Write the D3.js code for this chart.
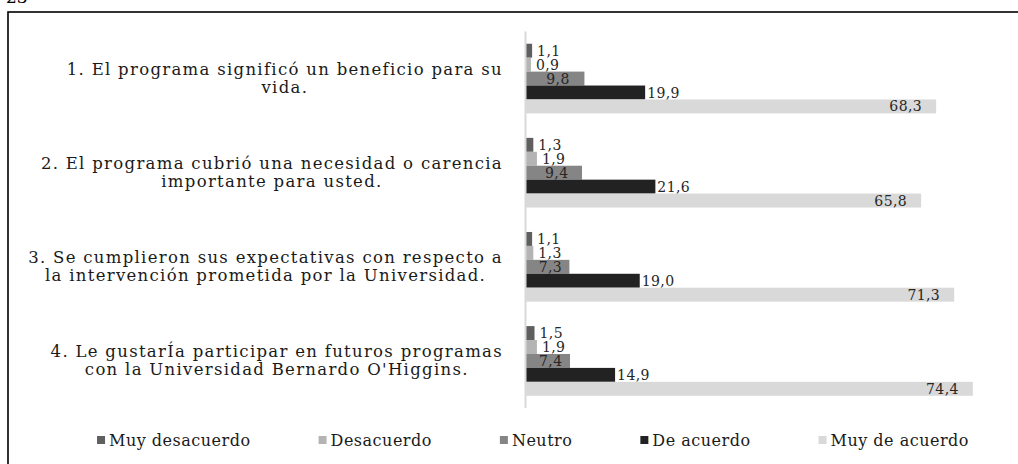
<!DOCTYPE html>
<html>
<head>
<meta charset="utf-8">
<script src="https://cdn.jsdelivr.net/npm/d3@7"></script>
<style>
  body { margin: 0; background: #fff; }
  svg { display: block; font-family: "DejaVu Serif", serif; }
</style>
</head>
<body>
<svg width="1018" height="464"></svg>
<script>
// preguntas (cada una en dos lineas, como en la figura)
var preguntas = [
    ["1. El programa significó un beneficio para su", "vida."],
    ["2. El programa cubrió una necesidad o carencia", "importante para usted."],
    ["3. Se cumplieron sus expectativas con respecto a", "la intervención prometida por la Universidad."],
    ["4. Le gustarÍa participar en futuros programas", "con la Universidad Bernardo O'Higgins."]
];

var series = ["Muy desacuerdo", "Desacuerdo", "Neutro", "De acuerdo", "Muy de acuerdo"];

// porcentajes por serie, en el orden de las preguntas
var muyDesacuerdo = [1.1, 1.3, 1.1, 1.5];
var desacuerdo    = [0.9, 1.9, 1.3, 1.9];
var neutro        = [9.8, 9.4, 7.3, 7.4];
var deAcuerdo     = [19.9, 21.6, 19.0, 14.9];
var muyDeAcuerdo  = [68.3, 65.8, 71.3, 74.4];

var valores = [muyDesacuerdo, desacuerdo, neutro, deAcuerdo, muyDeAcuerdo];

var colores = ["#5f5f5f", "#b4b4b4", "#858585", "#222222", "#d9d9d9"];
// donde va la etiqueta de cada serie
var posEtiqueta = ["fuera", "fuera", "centro", "fuera", "dentro"];

var svg = d3.select("svg");

// numero de pagina cortado arriba
svg.append("text")
    .attr("x", 6)
    .attr("y", 3)
    .attr("font-size", 17)
    .attr("fill", "#000")
    .text("23");

// marco
svg.append("rect")
    .attr("x", 8)
    .attr("y", 12)
    .attr("width", 1040)
    .attr("height", 500)
    .attr("fill", "none")
    .attr("stroke", "#000")
    .attr("stroke-width", 1.6);

var ejeX = 525.5;

var x = d3.scaleLinear()
    .domain([0, 80])
    .range([ejeX, ejeX + 481]);

var y = d3.scaleBand()
    .domain(d3.range(preguntas.length))
    .range([31.5, 408])
    .paddingInner(0.26)
    .paddingOuter(0.13);

var ySub = d3.scaleBand()
    .domain(series)
    .range([0, y.bandwidth()]);

var fmt = function (v) { return d3.format(".1f")(v).replace(".", ","); };

var g = svg.append("g");

// barras
var grupos = g.selectAll("g.grupo")
    .data(preguntas)
    .enter().append("g")
    .attr("class", "grupo")
    .attr("transform", function (d, i) { return "translate(0," + y(i) + ")"; });

grupos.each(function (p, i) {
    var gg = d3.select(this);
    series.forEach(function (s, k) {
        var v = valores[k][i];
        gg.append("rect")
            .attr("x", x(0))
            .attr("y", ySub(s))
            .attr("width", x(v) - x(0))
            .attr("height", ySub.bandwidth())
            .attr("fill", colores[k]);
    });
    series.forEach(function (s, k) {
        var v = valores[k][i];
        var t = gg.append("text")
            .attr("y", ySub(s) + ySub.bandwidth() / 2)
            .attr("dy", "0.36em")
            .attr("font-size", 14)
            .attr("letter-spacing", 0.4)
            .attr("fill", "#262626")
            .text(fmt(v));
        if (posEtiqueta[k] == "fuera") {
            t.attr("x", x(v) + (k == 3 ? 2 : 5)).attr("text-anchor", "start");
        } else if (posEtiqueta[k] == "centro") {
            t.attr("x", (x(0) + x(v)) / 2 + 3).attr("text-anchor", "middle");
        } else {
            t.attr("x", x(v) - 14).attr("text-anchor", "end");
        }
    });
});

// eje vertical
g.append("line")
    .attr("x1", ejeX)
    .attr("x2", ejeX)
    .attr("y1", y.range()[0])
    .attr("y2", y.range()[1])
    .attr("stroke", "#d9d9d9")
    .attr("stroke-width", 2);

// etiquetas de las preguntas: bloque alineado a la derecha, lineas centradas
var etiquetas = g.selectAll("g.etq")
    .data(preguntas)
    .enter().append("g")
    .attr("class", "etq")
    .attr("font-size", 16.5)
    .attr("letter-spacing", 1.3)
    .attr("fill", "#1a1a1a");

etiquetas.each(function (p, i) {
    var e = d3.select(this);
    var c = y(i) + y.bandwidth() / 2;
    var lineas = p.map(function (l, j) {
        return e.append("text")
            .attr("y", c - 4 + j * 18.5)
            .attr("text-anchor", "middle")
            .text(l);
    });
    var w = d3.max(lineas, function (t) { return t.node().getComputedTextLength(); });
    lineas.forEach(function (t) { t.attr("x", 503 - w / 2); });
});

// leyenda
var leyenda = svg.append("g")
    .attr("font-size", 16)
    .attr("letter-spacing", 0.5)
    .attr("fill", "#1a1a1a");

var items = leyenda.selectAll("g")
    .data(series)
    .enter().append("g");

items.append("rect")
    .attr("y", 436)
    .attr("width", 8)
    .attr("height", 8)
    .attr("fill", function (d, i) { return colores[i]; });

items.append("text")
    .attr("x", 12)
    .attr("y", 446)
    .text(function (d) { return d; });

var hueco = 68;
var xLey = 0;
items.each(function () {
    var it = d3.select(this);
    it.attr("data-x", xLey);
    xLey += 12 + it.select("text").node().getComputedTextLength() + hueco;
});
var totalLey = xLey - hueco;
var inicio = 533 - totalLey / 2;
items.attr("transform", function () {
    return "translate(" + (inicio + +d3.select(this).attr("data-x")) + ",0)";
});
</script>
</body>
</html>
